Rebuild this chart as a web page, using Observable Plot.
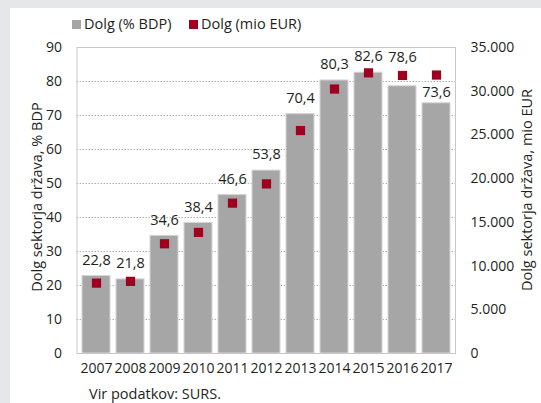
<!DOCTYPE html>
<html><head><meta charset="utf-8">
<script src="https://cdn.jsdelivr.net/npm/d3@7"></script>
<script src="https://cdn.jsdelivr.net/npm/@observablehq/plot@0.6"></script>
<style>
body{margin:0;width:541px;height:403px;background:#e6e7e8;font-family:"Open Sans",sans-serif;color:#231f20;overflow:hidden;position:relative}
#panel{position:absolute;left:10px;top:8px;width:531px;height:395px;background:#fff}
#chart{position:absolute;left:0;top:0}
.sw{position:absolute;width:9px;height:9px}
.lt{position:absolute;font-size:14.5px;line-height:18px;white-space:nowrap}
.vt{position:absolute;width:300px;text-align:center;font-size:14.5px;line-height:18px;white-space:nowrap;transform:rotate(-90deg);transform-origin:center center}
</style></head><body>
<div id="panel"></div>
<div class="sw" style="left:72px;top:20px;background:#a6a6a6"></div>
<div class="lt" style="left:84px;top:15px">Dolg (% BDP)</div>
<div class="sw" style="left:189px;top:20px;background:#a00020"></div>
<div class="lt" style="left:201px;top:15px">Dolg (mio EUR)</div>
<div id="chart"></div>
<div class="vt" style="left:-113px;top:188px">Dolg sektorja država, % BDP</div>
<div class="vt" style="left:377px;top:181px">Dolg sektorja država, mio EUR</div>
<div class="lt" style="left:89px;top:385px">Vir podatkov: SURS.</div>
<script>
const years = ["2007","2008","2009","2010","2011","2012","2013","2014","2015","2016","2017"];
const debtPctGDP = [22.8,21.8,34.6,38.4,46.6,53.8,70.4,80.3,82.6,78.6,73.6];
const debtMioEUR = [8050,8250,12550,13850,17200,19400,25500,30250,32100,31800,31850];
const leftTicks = [0,10,20,30,40,50,60,70,80,90];
const rightTicks = [0,5000,10000,15000,20000,25000,30000,35000];
const leftMax = 90, rightMax = 35000;

const loc = d3.formatLocale({decimal:",", thousands:".", grouping:[3], currency:["","€"]});
const fmt1 = loc.format(".1f");
const fmtK = loc.format(",d");
const k = leftMax / rightMax;

const data = years.map((y,i) => ({year:y, pct:debtPctGDP[i], eur:debtMioEUR[i]}));
const label = (filter, dy) => Plot.text(data, {filter, x:"year", y:"pct", text: d => fmt1(d.pct), dy, fontSize:14.5, fill:"#231f20"});

const chart = Plot.plot({
  width: 541, height: 380,
  marginLeft: 76.5, marginRight: 86, marginTop: 47, marginBottom: 27,
  style: {fontFamily:"Open Sans, sans-serif", fontSize:"14px", color:"#231f20", background:"transparent", overflow:"visible"},
  x: {domain: years, paddingInner: 0.17, paddingOuter: 0.085},
  y: {domain: [0, leftMax]},
  marks: [
    Plot.gridY(leftTicks.filter(d => d > 0 && d < leftMax), {stroke:"#b0b0b0", strokeOpacity:1, strokeDasharray:"1.5,1.5"}),
    Plot.barY(data, {x:"year", y:"pct", fill:"#a6a6a6", stroke:"#d6d6d6", strokeWidth:1}),
    Plot.frame({stroke:"#c8c8c8"}),
    label(d => d.year !== "2016" && d.year !== "2017", -16),
    label(d => d.year === "2016", -29),
    label(d => d.year === "2017", -11),
    Plot.dot(data, {x:"year", y: d => d.eur * k, symbol:"square", r:5.2, fill:"#a00020", stroke:null}),
    Plot.axisY(leftTicks, {anchor:"left", tickSize:0, tickPadding:15, label:null}),
    Plot.axisY(rightTicks.map(v => v * k), {anchor:"right", tickSize:0, tickPadding:15, label:null, tickFormat: d => fmtK(Math.round(d / k))}),
    Plot.axisX({tickSize:0, tickPadding:10, label:null})
  ]
});
document.getElementById("chart").appendChild(chart);
</script>
</body></html>
